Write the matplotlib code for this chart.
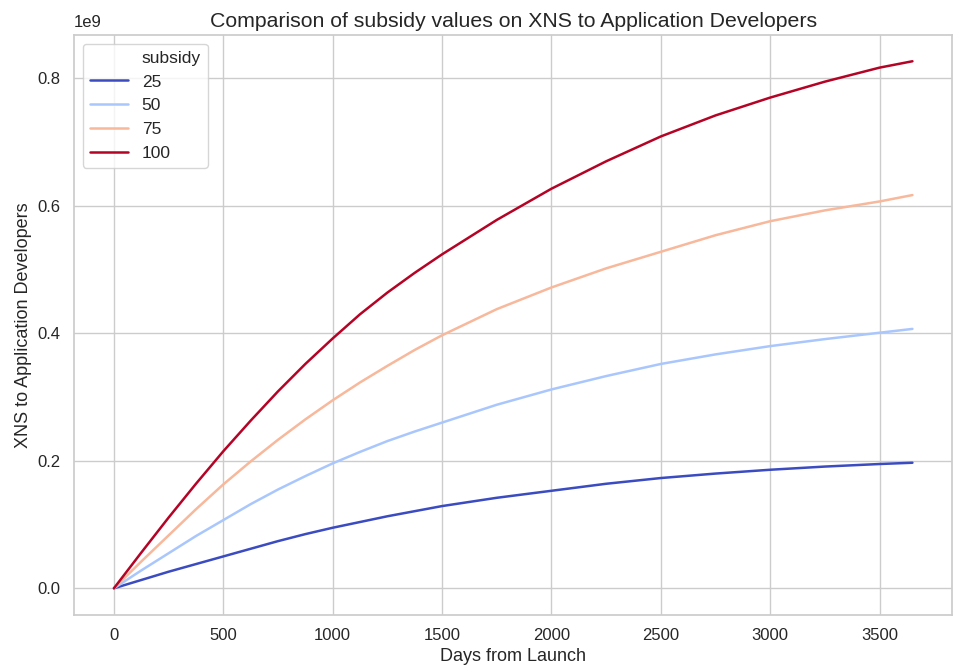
import matplotlib
matplotlib.use("Agg")
import matplotlib.pyplot as plt
from matplotlib.lines import Line2D
from matplotlib.ticker import FuncFormatter
import seaborn as sns

sns.set_theme(style="whitegrid")
plt.rcParams['font.family'] = ['Liberation Sans', 'DejaVu Sans']

# days from launch
days = [0, 125, 250, 375, 500, 625, 750, 875, 1000, 1125, 1250, 1375, 1500,
        1750, 2000, 2250, 2500, 2750, 3000, 3250, 3500, 3650]

# XNS to application developers (in units of 1e9)
sub_25 = [0, 0.013, 0.026, 0.038, 0.050, 0.062, 0.074, 0.085, 0.095, 0.104, 0.113, 0.121, 0.129,
          0.142, 0.153, 0.164, 0.173, 0.180, 0.186, 0.191, 0.195, 0.197]
sub_50 = [0, 0.028, 0.055, 0.082, 0.107, 0.132, 0.155, 0.176, 0.196, 0.214, 0.231, 0.246, 0.260,
          0.288, 0.312, 0.333, 0.352, 0.367, 0.380, 0.391, 0.401, 0.407]
sub_75 = [0, 0.042, 0.083, 0.124, 0.163, 0.199, 0.233, 0.265, 0.295, 0.323, 0.349, 0.374, 0.397,
          0.438, 0.472, 0.502, 0.528, 0.554, 0.576, 0.593, 0.607, 0.617]
sub_100 = [0, 0.056, 0.111, 0.164, 0.215, 0.263, 0.309, 0.352, 0.392, 0.430, 0.464, 0.495, 0.524,
           0.578, 0.627, 0.670, 0.709, 0.742, 0.770, 0.795, 0.817, 0.827]

subsidies = [25, 50, 75, 100]
series = [sub_25, sub_50, sub_75, sub_100]
colors = [plt.cm.coolwarm(i / 3) for i in range(4)]

fig = plt.figure(figsize=(9.61, 6.71), dpi=100)
ax = fig.add_axes([0.077, 0.084, 0.914, 0.864])

lines = []
for s, vals, c in zip(subsidies, series, colors):
    l, = ax.plot(days, [v * 1e9 for v in vals], color=c, linewidth=1.8, label=str(s))
    lines.append(l)

ax.yaxis.set_major_formatter(FuncFormatter(lambda v, p: f"{v / 1e9:.1f}"))
ax.text(0, 1.008, "1e9", transform=ax.transAxes, fontsize=12, va="bottom", ha="left", color="#262626")

ax.set_title("Comparison of subsidy values on XNS to Application Developers", fontsize=15.3)
ax.set_xlabel("Days from Launch", fontsize=13)
ax.set_ylabel("XNS to Application Developers", fontsize=13)
ax.tick_params(labelsize=12)

# seaborn-style legend: title shown as a blank entry
blank = Line2D([], [], linestyle="none")
ax.legend([blank] + lines, ["subsidy"] + [str(s) for s in subsidies],
          fontsize=12.5, loc="upper left", handlelength=2.2, labelspacing=0.5)

fig.savefig("out.png", dpi=100)
